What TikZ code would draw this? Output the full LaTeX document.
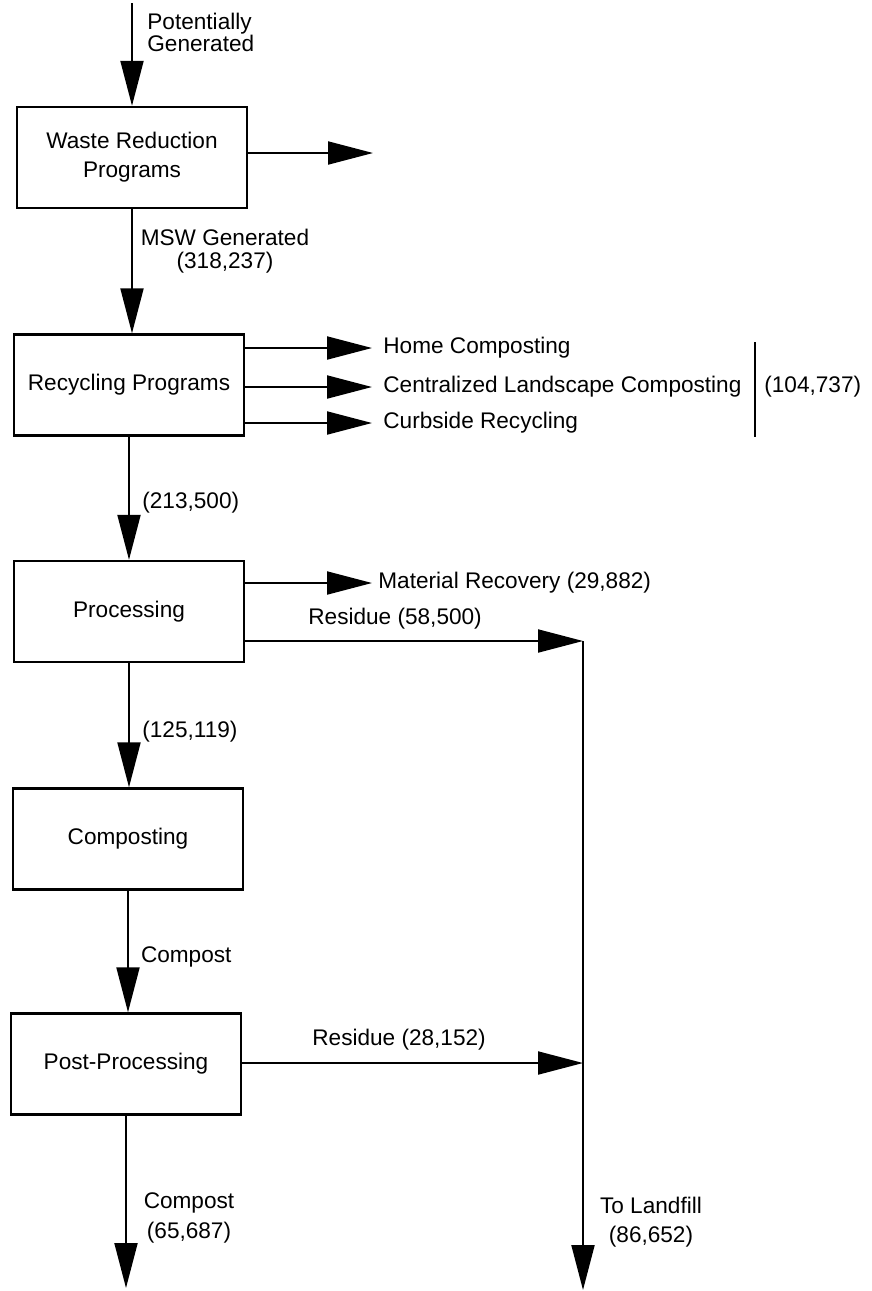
\documentclass[tikz,border=0pt]{standalone}
\usepackage{fontspec}
\setmainfont{Liberation Sans}
\usetikzlibrary{arrows.meta}
\begin{document}
\begin{tikzpicture}[x=0.5pt,y=-0.5pt,
  box/.style={draw, line width=1.2pt, minimum width=115pt, minimum height=50.5pt, inner sep=0pt, align=center, font=\fontsize{11.3}{14.5}\selectfont},
  lbl/.style={inner sep=0pt, font=\fontsize{11.3}{13.6}\selectfont},
  flow/.style={line width=1pt, -{Triangle[length=22.5pt,width=11.5pt]}},
  plain/.style={line width=1pt}]
\useasboundingbox (0,0) rectangle (872,1291);

% boxes
\node[box] (wr) at (132,157.5) {Waste Reduction\\Programs};
\node[box] (rp) at (129,385) {Recycling Programs};
\node[box] (pr) at (129,611.5) {Processing};
\node[box] (co) at (128,839) {Composting};
\node[box] (pp) at (126,1064) {Post-Processing};

% top input
\coordinate (src) at (132,3);
\draw[flow] (src) -- (wr.north);
\node[lbl, anchor=west, align=left, font=\fontsize{11.3}{11}\selectfont] (pg) at (147,32) {Potentially\\Generated};

% waste reduction output
\coordinate (wrout) at (373,153);
\draw[flow] (wr.east |- wrout) -- (wrout);

% MSW generated
\draw[flow] (wr.south) -- (wr.south |- rp.north);
\node[lbl, align=center, font=\fontsize{11.3}{11.5}\selectfont] (msw) at (225,251.5) {MSW Generated\\(318,237)};

% recycling branches
\node[lbl, anchor=west, inner xsep=5.5pt] (hc) at (372,348) {Home Composting};
\node[lbl, anchor=west, inner xsep=5.5pt] (clc) at (372,387) {Centralized Landscape Composting};
\node[lbl, anchor=west, inner xsep=5.5pt] (cr) at (372,423) {Curbside Recycling};
\draw[flow] (rp.east |- hc.west) -- (hc.west);
\draw[flow] (rp.east |- clc.west) -- (clc.west);
\draw[flow] (rp.east |- cr.west) -- (cr.west);
\coordinate (bt) at (755,342);
\coordinate (bb) at (755,437);
\draw[plain] (bt) -- (bb);
\node[lbl, anchor=west] (tot) at (764,387) {(104,737)};

% to processing
\draw[flow] (rp.south) -- (rp.south |- pr.north);
\node[lbl, anchor=west] (q1) at (142,503) {(213,500)};

% material recovery
\node[lbl, anchor=west, inner xsep=3pt] (mr) at (372,583) {Material Recovery (29,882)};
\draw[flow] (pr.east |- mr.west) -- (mr.west);

% residues and landfill
\node[lbl, anchor=west] (r1) at (308,619) {Residue (58,500)};
\coordinate (j1) at (583,641);
\coordinate (j2) at (583,1063);
\coordinate (lf) at (583,1290);
\draw[flow] (pr.east |- j1) -- (j1);
\draw[flow] (j1) -- (lf);
\draw[flow] (pp.east |- j2) -- (j2);
\node[lbl, anchor=west] (r2) at (312,1040) {Residue (28,152)};
\node[lbl, align=center, font=\fontsize{11.3}{14.5}\selectfont] (tl) at (651,1222.5) {To Landfill\\(86,652)};

% to composting
\draw[flow] (pr.south) -- (pr.south |- co.north);
\node[lbl, anchor=west] (q2) at (142,732) {(125,119)};

% to post-processing
\draw[flow] (co.south) -- (co.south |- pp.north);
\node[lbl, anchor=west] (cp) at (140.6,957) {Compost};

% final compost
\coordinate (cout) at (126,1288);
\draw[flow] (pp.south) -- (pp.south |- cout);
\node[lbl, align=center, font=\fontsize{11.3}{15}\selectfont] (cf) at (189,1218) {Compost\\(65,687)};
\end{tikzpicture}
\end{document}
